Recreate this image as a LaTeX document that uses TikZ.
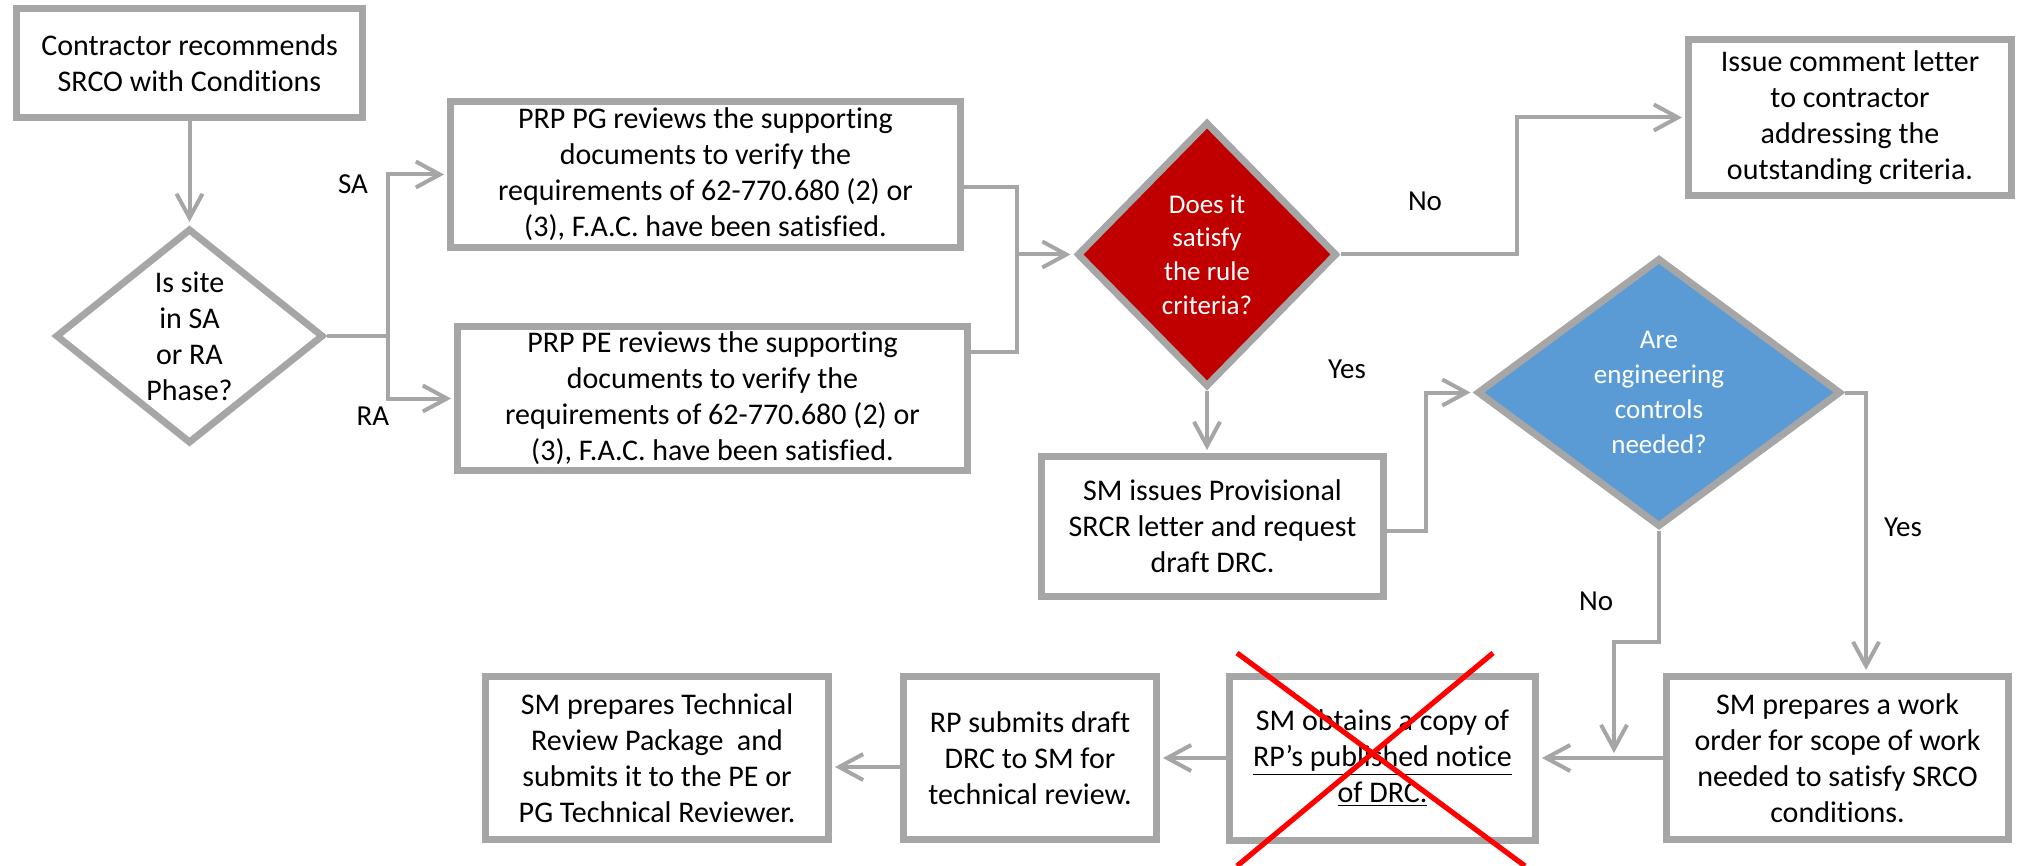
\documentclass[tikz,border=0pt]{standalone}
\usepackage{fontspec}
\setmainfont[Ligatures=NoCommon]{Carlito}
\usetikzlibrary{shapes.geometric,arrows.meta}
\definecolor{bordergray}{HTML}{A6A6A6}
\definecolor{dred}{HTML}{C00000}
\definecolor{dblue}{HTML}{5B9BD5}
\definecolor{xred}{HTML}{FF0000}
\begin{document}
\begin{tikzpicture}[x=0.5pt,y=-0.5pt,
  box/.style={draw=bordergray, line width=3.5pt, fill=white, inner sep=0pt, align=center,
    font=\fontsize{15}{18}\selectfont},
  dec/.style={diamond, draw=bordergray, line width=3.5pt, inner sep=0pt, align=center,
    font=\fontsize{15}{18}\selectfont},
  decsmall/.style={dec, text=white, font=\fontsize{13.5}{16.8}\selectfont},
  conn/.style={draw=bordergray, line width=2pt, shorten >=1.5pt,
    -{Straight Barb[length=12pt,width=13pt]}},
  connl/.style={draw=bordergray, line width=2pt},
  lbl/.style={font=\fontsize{14.5}{17}\selectfont, inner sep=0pt},
  cross/.style={draw=xred, line width=2.6pt}
]
\useasboundingbox (0,0) rectangle (2017,866);

% nodes
\node[box, minimum width=173pt, minimum height=54.5pt] (b1) at (189.5,63)
  {Contractor recommends\\SRCO with Conditions};
\node[dec, aspect=1.25, minimum width=134pt, minimum height=107.5pt] (d1) at (189.5,336)
  {Is site\\in SA\\or RA\\Phase?};
\node[box, minimum width=255pt, minimum height=73pt] (pg) at (705.5,174.5)
  {PRP PG reviews the supporting\\documents to verify the\\requirements of 62-770.680 (2) or\\(3), F.A.C. have been satisfied.};
\node[box, minimum width=255pt, minimum height=72pt] (pe) at (712.5,398.5)
  {PRP PE reviews the supporting\\documents to verify the\\requirements of 62-770.680 (2) or\\(3), F.A.C. have been satisfied.};
\node[decsmall, fill=dred, minimum width=130pt, minimum height=132.5pt] (d2) at (1207,254.5)
  {Does it\\satisfy\\the rule\\criteria?};
\node[box, minimum width=161.5pt, minimum height=78pt] (iss) at (1850,117.5)
  {Issue comment letter\\to contractor\\addressing the\\outstanding criteria.};
\node[box, minimum width=171pt, minimum height=70pt] (smi) at (1212.5,526.5)
  {SM issues Provisional\\SRCR letter and request\\draft DRC.};
\node[decsmall, fill=dblue, font=\fontsize{13.5}{17.5}\selectfont, minimum width=182pt, minimum height=134.5pt] (d3) at (1659,392.5)
  {Are\\engineering\\controls\\needed?};
\node[box, minimum width=171pt, minimum height=81.5pt] (wo) at (1837.5,758)
  {SM prepares a work\\order for scope of work\\needed to satisfy SRCO\\conditions.};
\node[box, minimum width=153pt, minimum height=82pt] (smo) at (1382.5,758)
  {SM obtains a copy of\\\underline{RP’s published notice}\\\underline{of DRC.}};
\node[box, minimum width=126.5pt, minimum height=81.5pt] (rps) at (1030,758)
  {RP submits draft\\DRC to SM for\\technical review.};
\node[box, minimum width=171.5pt, minimum height=81.5pt] (smp) at (657,758)
  {SM prepares Technical\\Review Package\ \ and\\submits it to the PE or\\PG Technical Reviewer.};

% bend points
\coordinate (jA) at (388,336);
\coordinate (jB) at (1017,254.5);
\coordinate (jC) at (1517,254.5);
\coordinate (jD) at (1426,392.5);
\coordinate (jE) at (1866,392.5);
\coordinate (jF) at (1614,642);

% connectors
\draw[conn] (b1.south) -- (d1.north);
\draw[conn] (d1.east) -- (jA) |- (pg.west);
\draw[conn] (jA) |- (pe.west);
\draw[conn] ([yshift=-6.25pt]pg.east) -| (jB) -- (d2.west);
\draw[connl] ([yshift=23.25pt]pe.east) -| (jB);
\draw[conn] (d2.east) -- (jC) |- (iss.west);
\draw[conn] (d2.south) -- (d2.south |- smi.north);
\draw[conn] ([yshift=-2.25pt]smi.east) -| (jD) -- (d3.west);
\draw[conn] (d3.east) -- (jE) -- (jE |- wo.north);
\draw[conn, shorten >=2.5pt] (d3.south) |- (jF) -- (jF |- wo.west);
\draw[conn] (wo.west) -- (smo.east);
\draw[conn] (smo.west) -- (rps.east);
\draw[conn] ([yshift=-4.5pt]rps.west) -- ([yshift=-4.5pt]smp.east);

% labels
\node[lbl] (lSA) at (353,184) {SA};
\node[lbl] (lRA) at (373,416) {RA};
\node[lbl] (lNo1) at (1425,201) {No};
\node[lbl] (lYes1) at (1347,369) {Yes};
\node[lbl] (lNo2) at (1596,601) {No};
\node[lbl] (lYes2) at (1903,527) {Yes};

% red cross
\draw[cross] (1237,653) -- (1525,866);
\draw[cross] (1493,653) -- (1237,866);
\end{tikzpicture}
\end{document}
